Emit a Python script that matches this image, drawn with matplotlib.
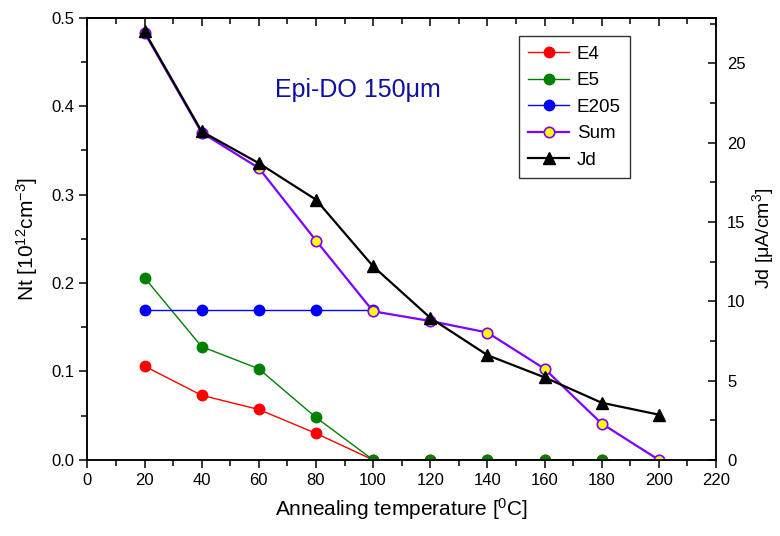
import matplotlib
matplotlib.use("Agg")
import matplotlib.pyplot as plt
from matplotlib.ticker import MultipleLocator

plt.rcParams['font.family'] = ['Liberation Sans', 'DejaVu Sans']
plt.rcParams['mathtext.fontset'] = 'custom'
plt.rcParams['mathtext.rm'] = 'Liberation Sans'
plt.rcParams['mathtext.it'] = 'Liberation Sans:italic'
plt.rcParams['mathtext.default'] = 'rm'

# annealing temperatures [C]
temp = [20, 40, 60, 80, 100, 120, 140, 160, 180, 200]
temp_e205 = [20, 40, 60, 80, 100]

# trap concentrations Nt [1e12 cm^-3]
e4 = [0.106, 0.073, 0.057, 0.030, 0.0, 0.0, 0.0, 0.0, 0.0]
e5 = [0.206, 0.128, 0.103, 0.048, 0.0, 0.0, 0.0, 0.0, 0.0]
e205 = [0.169, 0.169, 0.169, 0.169, 0.169]
nt_sum = [0.483, 0.370, 0.330, 0.248, 0.168, 0.157, 0.144, 0.103, 0.041, 0.0]

# leakage current density Jd [uA/cm^3]
jd = [27.0, 20.7, 18.7, 16.4, 12.2, 8.95, 6.6, 5.2, 3.6, 2.85]

fig = plt.figure(figsize=(7.8, 5.36), dpi=100)
ax = fig.add_axes([0.112, 0.142, 0.806, 0.825])

ax.plot(temp[:9], e4, '-o', color='red', lw=1, ms=7.5, label='E4')
ax.plot(temp[:9], e5, '-o', color='#008000', lw=1, ms=7.5, label='E5')
ax.plot(temp_e205, e205, '-o', color='blue', lw=1, ms=7.5, label='E205')
ax.plot(temp, nt_sum, '-o', color='#8000ff', lw=1.6, ms=7.5,
        mfc='yellow', mec='#8000ff', mew=1.2, label='Sum')

ax.set_xlim(0, 220)
ax.set_ylim(0, 0.5)
ax.xaxis.set_major_locator(MultipleLocator(20))
ax.xaxis.set_minor_locator(MultipleLocator(10))
ax.yaxis.set_major_locator(MultipleLocator(0.1))
ax.yaxis.set_minor_locator(MultipleLocator(0.05))
ax.yaxis.set_major_formatter(lambda v, p: f"{v:.1f}")
ax.tick_params(which='both', direction='out', width=1.1, labelsize=12, top=False, right=False)
ax.tick_params(which='major', length=6)
ax.tick_params(which='minor', length=4)
for s in ax.spines.values():
    s.set_linewidth(1.1)

top = ax.secondary_xaxis('top')
top.xaxis.set_major_locator(MultipleLocator(20))
top.xaxis.set_minor_locator(MultipleLocator(10))
top.tick_params(which='both', direction='in', width=1.1, labeltop=False)
top.tick_params(which='major', length=6)
top.tick_params(which='minor', length=4)
top.spines['top'].set_linewidth(1.1)

ax.set_xlabel('Annealing temperature [$^0$C]', fontsize=15, labelpad=6)
ax.set_ylabel('Nt [10$^{12}$cm$^{-3}$]', fontsize=15, labelpad=8)

ax2 = ax.twinx()
ax2.plot(temp, jd, '-^', color='black', lw=1.6, ms=8, label='Jd')
ax2.set_ylim(0, 27.87)
ax2.yaxis.set_major_locator(MultipleLocator(5))
ax2.yaxis.set_minor_locator(MultipleLocator(2.5))
ax2.tick_params(which='both', direction='in', width=1.1, labelsize=12, pad=8)
ax2.tick_params(which='major', length=6)
ax2.tick_params(which='minor', length=4)
ax2.set_ylabel('Jd [\u03bcA/cm$^3$]', fontsize=14, labelpad=3)
for s in ax2.spines.values():
    s.set_linewidth(1.1)

ax.text(0.43, 0.836, 'Epi-DO 150\u03bcm', transform=ax.transAxes,
        color='#1010a0', fontsize=18, ha='center', va='center')

h1, l1 = ax.get_legend_handles_labels()
h2, l2 = ax2.get_legend_handles_labels()
leg = ax2.legend(h1 + h2, l1 + l2, loc='upper left', bbox_to_anchor=(0.686, 0.958),
                 fontsize=13.5, frameon=True, fancybox=False, edgecolor='black',
                 handlelength=2.2, handletextpad=0.4, labelspacing=0.5,
                 borderpad=0.5, borderaxespad=0)
leg.get_frame().set_linewidth(1.0)

fig.savefig('out.png', dpi=100)
